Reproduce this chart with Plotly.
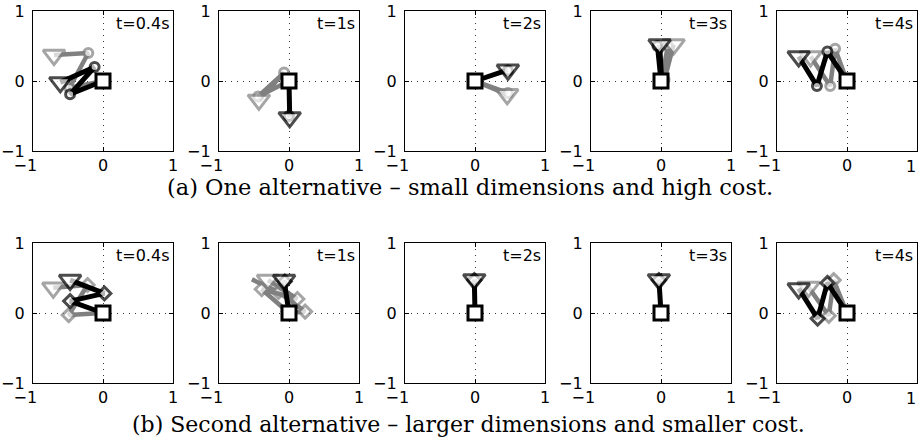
import plotly.graph_objects as go

times = ["t=0.4s", "t=1s", "t=2s", "t=3s", "t=4s"]
tick_vals = [-1, 0, 1]
x_tick_text = ["\u22121\u00a0\u00a0\u00a0", "0", "1"]
y_tick_text = ["\u22121", "0", "1"]
caption_a = "(a) One alternative \u2013 small dimensions and high cost."
caption_b = "(b) Second alternative \u2013 larger dimensions and smaller cost."

# Row (a): base -> joint1 -> joint2 -> end effector
a_black_x = [[0, -0.47, -0.12, -0.61], [0, 0.0, 0.0, 0.01], [0, 0.47, 0.02, 0.47], [0, -0.05, 0.01, -0.02], [0, -0.28, -0.43, -0.69]]
a_black_y = [[0, -0.19, 0.20, -0.02], [0, -0.50, 0.0, -0.52], [0, 0.15, 0.01, 0.16], [0, 0.50, 0.02, 0.52], [0, 0.42, -0.07, 0.35]]
a_gray_x = [[0, -0.48, -0.21, -0.70], [0, -0.44, -0.07, -0.43], [0, 0.47, 0.02, 0.46], [0, 0.10, 0.05, 0.18], [0, -0.17, -0.24, -0.52]]
a_gray_y = [[0, -0.10, 0.40, 0.37], [0, -0.22, 0.12, -0.27], [0, -0.17, -0.01, -0.19], [0, 0.50, 0.02, 0.52], [0, 0.46, -0.07, 0.35]]

# Row (b)
b_black_x = [[0, -0.47, 0.02, -0.47], [0, -0.06, 0.0, -0.07], [0, -0.01, 0.0, -0.01], [0, -0.03, 0.0, -0.03], [0, -0.28, -0.42, -0.69]]
b_black_y = [[0, 0.17, 0.28, 0.47], [0, 0.45, 0.02, 0.47], [0, 0.47, 0.0, 0.48], [0, 0.47, 0.0, 0.48], [0, 0.43, -0.08, 0.35]]
b_gray_x = [[0, -0.49, -0.22, -0.71], [0, -0.39, 0.12, -0.30], None, None, [0, -0.19, -0.26, -0.55]]
b_gray_y = [[0, -0.03, 0.40, 0.36], [0, 0.34, 0.20, 0.47], None, None, [0, 0.47, -0.04, 0.37]]
b_gray2_x = [None, [0, 0.23, -0.15, -0.53], None, None, None]
b_gray2_y = [None, [0, 0.02, 0.30, 0.48], None, None, None]

BLACK = "#000000"
GRAY = "#808080"
W, H = 922, 443
col_left = [33, 219, 405, 591, 777]
panel_w = 140
row_top = [11, 243]
TICK_FONT = dict(family="DejaVu Sans", size=16, color="black")

fig = go.Figure()


def arm(xs, ys, color, joint, axn, show_end=True, lw=5):
    n = len(xs)
    symbols, sizes = [], []
    for i in range(n):
        if i == 0:
            symbols.append("square"); sizes.append(0)
        elif i == n - 1:
            symbols.append("triangle-down"); sizes.append(19 if show_end else 0)
        else:
            symbols.append(joint); sizes.append(9 if joint == "circle" else 10)
    fig.add_trace(go.Scatter(
        x=xs, y=ys, mode="lines+markers",
        line=dict(color=color, width=lw),
        marker=dict(symbol=symbols, size=sizes, color="white",
                    line=dict(color=color, width=3)),
        xaxis="x" + axn, yaxis="y" + axn, showlegend=False, hoverinfo="skip",
        cliponaxis=False,
    ))


def base(axn):
    fig.add_trace(go.Scatter(
        x=[0], y=[0], mode="markers",
        marker=dict(symbol="square", size=14, color="white", line=dict(color=BLACK, width=3)),
        xaxis="x" + axn, yaxis="y" + axn, showlegend=False, hoverinfo="skip", cliponaxis=False,
    ))


layout = {}
for r in range(2):
    for c in range(5):
        k = r * 5 + c + 1
        axn = "" if k == 1 else str(k)
        x0 = col_left[c] / W
        x1 = (col_left[c] + panel_w) / W
        y1 = 1 - row_top[r] / H
        y0 = 1 - (row_top[r] + panel_w) / H
        common = dict(range=[-1, 1], tickvals=tick_vals,
                      showline=True, linecolor="black", linewidth=1.2, mirror="ticks",
                      ticks="inside", ticklen=4, tickcolor="black", automargin=False,
                      showgrid=True, gridcolor="#333333", griddash="1px,5px", gridwidth=1,
                      zeroline=False, fixedrange=True, tickfont=TICK_FONT)
        xt = list(x_tick_text)
        if c == 4:
            xt[2] = ""  # drawn as a paper annotation so it stays inside the page edge
            fig.add_annotation(text=x_tick_text[2], xref="paper", yref="paper",
                               x=(col_left[c] + panel_w - 6) / W,
                               y=1 - (row_top[r] + panel_w + 15) / H,
                               xanchor="center", yanchor="middle",
                               showarrow=False, font=TICK_FONT)
        layout["xaxis" + axn] = dict(domain=[x0, x1], anchor="y" + axn, ticktext=xt, **common)
        layout["yaxis" + axn] = dict(domain=[y0, y1], anchor="x" + axn, ticktext=y_tick_text,
                                     ticklabelstandoff=4, **common)
        fig.add_annotation(text=times[c], xref="x" + axn + " domain", yref="y" + axn + " domain",
                           x=0.985, y=0.99, xanchor="right", yanchor="top", showarrow=False,
                           font=TICK_FONT)
        if r == 0:
            arm(a_gray_x[c], a_gray_y[c], GRAY, "circle", axn, lw=4.5)
            arm(a_black_x[c], a_black_y[c], BLACK, "circle", axn)
        else:
            if b_gray2_x[c] is not None:
                arm(b_gray2_x[c], b_gray2_y[c], GRAY, "diamond", axn, show_end=False, lw=4.5)
            if b_gray_x[c] is not None:
                arm(b_gray_x[c], b_gray_y[c], GRAY, "diamond", axn, lw=4.5)
            arm(b_black_x[c], b_black_y[c], BLACK, "diamond", axn)
        base(axn)

fig.add_annotation(text=caption_a, xref="paper", yref="paper", x=470 / W, y=1 - 187 / H,
                   xanchor="center", yanchor="middle", showarrow=False,
                   font=dict(family="DejaVu Serif", size=22.5, color="black"))
fig.add_annotation(text=caption_b, xref="paper", yref="paper", x=469 / W, y=1 - 424 / H,
                   xanchor="center", yanchor="middle", showarrow=False,
                   font=dict(family="DejaVu Serif", size=22, color="black"))

fig.update_layout(width=W, height=H, autosize=False, margin=dict(l=0, r=0, t=0, b=0, pad=0),
                  paper_bgcolor="white", plot_bgcolor="white", **layout)
fig.write_html("out.html", config={"displayModeBar": False},
               post_script="document.body.style.margin='0';document.body.style.padding='0';")
